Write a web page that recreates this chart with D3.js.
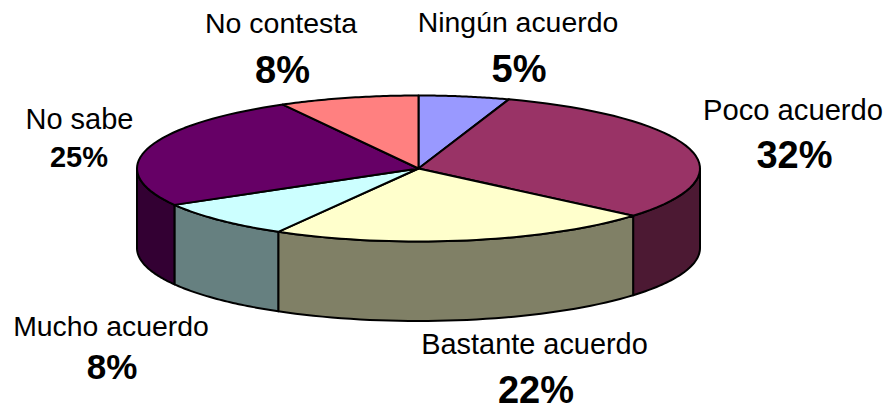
<!DOCTYPE html>
<html><head><meta charset="utf-8">
<script src="https://cdn.jsdelivr.net/npm/d3@7"></script>
<style>html,body{margin:0;padding:0;background:#fff}svg{display:block}text{font-family:"Liberation Sans",Arial,sans-serif;fill:#000;text-anchor:middle}</style>
</head><body><div id="chart"></div>
<script>
const categories = ["Ningún acuerdo","Poco acuerdo","Bastante acuerdo","Mucho acuerdo","No sabe","No contesta"];
const percentLabels = ["5%","32%","22%","8%","25%","8%"];
const values = [5.2,31.0,22.1,8.4,25.3,8.0];
const topColors = ["#9999FF","#993366","#FFFFCC","#CCFFFF","#660066","#FF8080"];
const sideColors = ["#4C4C80","#4C1933","#808066","#668080","#330033","#804040"];
const labelX = [518,793,534.5,111,79.5,281];
const pctX = [519,794.5,536,112,79,282.5];
const nameY = [32,120,354,336,129,33];
const pctY = [82,168,402.5,379,167,83];
const nameSize = [28.4,29.2,28.9,28.4,29,28.5];
const pctSize = [38,38,38,35,29,38];

const W=887,H=404,cx=418.5,cy=168.5,rx=281.5,ry=73,depth=79.5;
const svg=d3.select("#chart").append("svg").attr("width",W).attr("height",H);
const arcs=d3.pie().sort(null).value(d=>d)(values);
const ex=d3.scaleLinear().domain([-1,1]).range([cx-rx,cx+rx]);
const ey=d3.scaleLinear().domain([-1,1]).range([cy-ry,cy+ry]);
const pt=(t,dy=0)=>[ex(Math.sin(t)),ey(-Math.cos(t))+dy];
const samples=(a,b)=>d3.range(0,41).map(i=>a+(b-a)*i/40);
const line=d3.line();
const draw=(pts,fill)=>svg.append("path").attr("d",line(pts)+"Z").attr("fill",fill)
  .attr("stroke","#000").attr("stroke-width",2).attr("stroke-linejoin","round");

// walls: only the front half of the rim is visible
arcs.forEach((d,i)=>{
  const a=Math.max(d.startAngle,Math.PI/2),b=Math.min(d.endAngle,Math.PI*1.5);
  if(b<=a)return;
  const s=samples(a,b);
  draw([...s.map(t=>pt(t)),...s.slice().reverse().map(t=>pt(t,depth))],sideColors[i]);
});
// top faces
arcs.forEach((d,i)=>{
  draw([[cx,ey(0)],...samples(d.startAngle,d.endAngle).map(t=>pt(t))],topColors[i]);
});
// labels
categories.forEach((c,i)=>{
  svg.append("text").attr("x",labelX[i]).attr("y",nameY[i]).attr("font-size",nameSize[i]).text(c);
  svg.append("text").attr("x",pctX[i]).attr("y",pctY[i]).attr("font-size",pctSize[i]).attr("font-weight","bold").text(percentLabels[i]);
});
</script></body></html>
